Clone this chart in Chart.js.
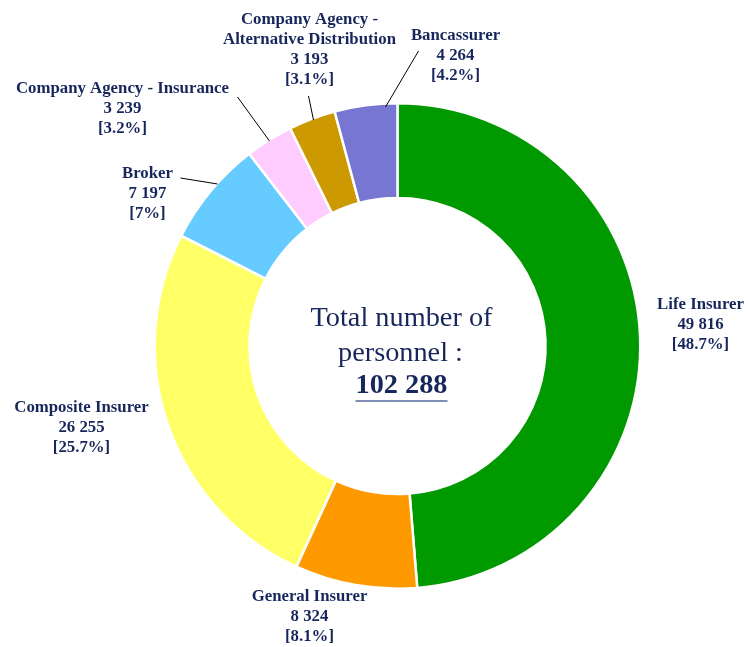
<!DOCTYPE html>
<html>
<head>
<meta charset="utf-8">
<script src="https://cdn.jsdelivr.net/npm/chart.js@4"></script>
<style>
html,body{margin:0;padding:0;background:#fff;}
#wrap{width:748px;height:647px;position:relative;}
</style>
</head>
<body>
<div id="wrap"><canvas id="c" width="748" height="647"></canvas></div>
<script>
const categories = ["Life Insurer", "General Insurer", "Composite Insurer", "Broker",
  "Company Agency - Insurance", "Company Agency - Alternative Distribution", "Bancassurer"];
const labelLines = [["Life Insurer"], ["General Insurer"], ["Composite Insurer"], ["Broker"],
  ["Company Agency - Insurance"], ["Company Agency -", "Alternative Distribution"], ["Bancassurer"]];
const values = [49816, 8324, 26255, 7197, 3239, 3193, 4264];
const colors = ["#009900", "#FF9900", "#FFFF66", "#66CCFF", "#FFCCFF", "#CC9900", "#7777D3"];
const centerTitle = ["Total number of", "personnel :"];
const centerTotal = "102 288";
// label block centre (first line) relative to chart centre
const labelPos = [[303, -41], [-88, 251], [-316, 62], [-250, -172], [-275, -257], [-88, -326], [58, -310]];
// leader lines: [from dx,dy, to dx,dy] relative to chart centre (null = none)
const leaders = [null, null, null, [-217, -168, -180, -162], [-128, -205, -160, -249], [-84, -226, -89, -250], [-12, -239, 21, -295]];

function fmt(n){ return String(n).replace(/\B(?=(\d{3})+(?!\d))/g, " "); }
const total = values.reduce((a,b)=>a+b,0);
function pct(v){ let s=(v/total*100).toFixed(1); if (s.endsWith(".0")) s=s.slice(0,-2); return "["+s+"%]"; }

const navy = "#17275C";
const labelPlugin = {
  id: "labels",
  afterDraw(chart){
    const ctx = chart.ctx;
    const meta = chart.getDatasetMeta(0);
    const arc0 = meta.data[0];
    const cx = arc0.x, cy = arc0.y;
    ctx.save();
    ctx.strokeStyle = "#000"; ctx.lineWidth = 1;
    leaders.forEach(l=>{
      if(!l) return;
      ctx.beginPath(); ctx.moveTo(cx+l[0], cy+l[1]); ctx.lineTo(cx+l[2], cy+l[3]); ctx.stroke();
    });
    ctx.fillStyle = navy;
    ctx.font = "bold 16.8px 'Liberation Serif', 'Times New Roman', serif";
    ctx.textAlign = "center"; ctx.textBaseline = "middle";
    meta.data.forEach((arc,i)=>{
      const lines = labelLines[i].concat([fmt(values[i]), pct(values[i])]);
      const x = cx + labelPos[i][0];
      let y = cy + labelPos[i][1];
      lines.forEach(t=>{ ctx.fillText(t, x, y); y += 19.8; });
    });
    ctx.font = "28.3px 'Liberation Serif', 'Times New Roman', serif";
    ctx.fillText(centerTitle[0], cx+4, cy-27);
    ctx.fillText(centerTitle[1], cx+3, cy+8);
    ctx.font = "bold 28.3px 'Liberation Serif', 'Times New Roman', serif";
    ctx.fillText(centerTotal, cx+4, cy+40);
    const w = ctx.measureText(centerTotal).width;
    ctx.strokeStyle = "#7F8FB5"; ctx.lineWidth = 2;
    ctx.beginPath(); ctx.moveTo(cx+4-w/2, cy+55); ctx.lineTo(cx+4+w/2, cy+55); ctx.stroke();
    ctx.restore();
  }
};

new Chart(document.getElementById("c"), {
  type: "doughnut",
  data: { labels: categories, datasets: [{ data: values, backgroundColor: colors, borderColor: "#fff", borderWidth: 2.5 }] },
  options: {
    responsive: false, animation: false, cutout: "61%",
    layout: { padding: { top: 102, bottom: 57, left: 153, right: 106 } },
    plugins: { legend: { display: false }, tooltip: { enabled: false } }
  },
  plugins: [labelPlugin]
});
</script>
</body>
</html>
